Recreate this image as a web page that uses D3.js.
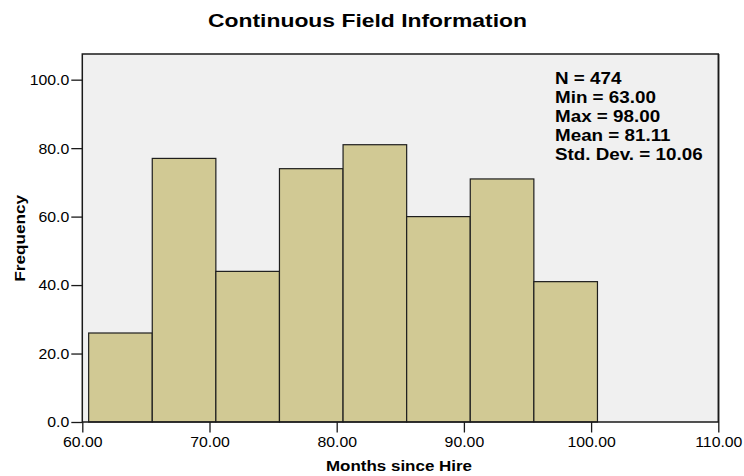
<!DOCTYPE html>
<html>
<head>
<meta charset="utf-8">
<script src="https://cdn.jsdelivr.net/npm/d3@7"></script>
<style>
  html, body { margin: 0; padding: 0; background: #ffffff; }
  svg { display: block; }
  text { font-family: "Liberation Sans", Arial, sans-serif; fill: #000; }
</style>
</head>
<body>
<svg id="chart" width="744" height="476"></svg>
<script>
// ---- data ----
const title = "Continuous Field Information";
const xLabel = "Months since Hire";
const yLabel = "Frequency";
const binStarts = [60.5, 65.5, 70.5, 75.5, 80.5, 85.5, 90.5, 95.5];
const binWidth = 5;
const frequencies = [26, 77, 44, 74, 81, 60, 71, 41];
const xTicks = [60, 70, 80, 90, 100, 110];
const yTicks = [0, 20, 40, 60, 80, 100];
const statLines = ["N = 474", "Min = 63.00", "Max = 98.00", "Mean = 81.11", "Std. Dev. = 10.06"];

// ---- layout ----
const svg = d3.select("#chart");
const plotL = 82.3, plotR = 718.3, plotT = 54, plotB = 422;
const x = d3.scaleLinear().domain([60, 110]).range([plotL, plotR]);
const y = d3.scaleLinear().domain([0, 107.5]).range([plotB, plotT]);

// stretch helper to mimic the wider rasterised fonts
function widen(sel, f) {
  sel.each(function () {
    const w = this.getComputedTextLength();
    d3.select(this).attr("textLength", w * f).attr("lengthAdjust", "spacingAndGlyphs");
  });
}

// plot background
svg.append("rect")
  .attr("x", plotL).attr("y", plotT)
  .attr("width", plotR - plotL).attr("height", plotB - plotT)
  .attr("fill", "#f0f0f0");

// bars
svg.append("g").selectAll("rect")
  .data(frequencies)
  .join("rect")
  .attr("x", (d, i) => x(binStarts[i]))
  .attr("y", d => y(d))
  .attr("width", (d, i) => x(binStarts[i] + binWidth) - x(binStarts[i]))
  .attr("height", d => y(0) - y(d))
  .attr("fill", "#d1c994")
  .attr("stroke", "#1e1e1e")
  .attr("stroke-width", 1.2);

// frame
svg.append("rect")
  .attr("x", plotL).attr("y", plotT)
  .attr("width", plotR - plotL).attr("height", plotB - plotT)
  .attr("fill", "none")
  .attr("stroke", "#1a1a1a")
  .attr("stroke-width", 1.5);
svg.append("line")
  .attr("x1", plotR + 1.2).attr("x2", plotR + 1.2)
  .attr("y1", plotT).attr("y2", plotB)
  .attr("stroke", "#9a9a9a").attr("stroke-width", 1);

// y axis
const yAxis = svg.append("g")
  .attr("transform", `translate(${plotL},0)`)
  .call(d3.axisLeft(y).tickValues(yTicks).tickFormat(d3.format(".1f")).tickSize(11).tickPadding(2));
yAxis.select(".domain").remove();
yAxis.selectAll(".tick line").attr("stroke", "#1a1a1a").attr("stroke-width", 1.3);
yAxis.selectAll(".tick text")
  .attr("font-size", 14).attr("font-family", "Liberation Sans, Arial, sans-serif")
  .attr("fill", "#222").attr("dy", "0.35em");
widen(yAxis.selectAll(".tick text"), 1.13);

// x axis
const xAxis = svg.append("g")
  .attr("transform", `translate(0,${plotB})`)
  .call(d3.axisBottom(x).tickValues(xTicks).tickFormat(d3.format(".2f")).tickSize(10.5).tickPadding(5));
xAxis.select(".domain").remove();
xAxis.selectAll(".tick line").attr("stroke", "#1a1a1a").attr("stroke-width", 1.3);
xAxis.selectAll(".tick text")
  .attr("font-size", 14).attr("font-family", "Liberation Sans, Arial, sans-serif")
  .attr("fill", "#222");
widen(xAxis.selectAll(".tick text"), 1.13);

// title
svg.append("text")
  .attr("x", 367.5).attr("y", 26.5)
  .attr("text-anchor", "middle")
  .attr("font-size", 18.5).attr("font-weight", "bold")
  .attr("textLength", 319).attr("lengthAdjust", "spacingAndGlyphs")
  .text(title);

// axis titles
svg.append("text")
  .attr("x", 399).attr("y", 471)
  .attr("text-anchor", "middle")
  .attr("font-size", 15).attr("font-weight", "bold")
  .attr("textLength", 146).attr("lengthAdjust", "spacingAndGlyphs")
  .text(xLabel);

svg.append("text")
  .attr("transform", "translate(25,238.3) rotate(-90)")
  .attr("text-anchor", "middle")
  .attr("font-size", 14).attr("font-weight", "bold")
  .attr("textLength", 87).attr("lengthAdjust", "spacingAndGlyphs")
  .text(yLabel);

// statistics box
const stats = svg.append("g").selectAll("text")
  .data(statLines)
  .join("text")
  .attr("x", 555)
  .attr("y", (d, i) => 83.5 + i * 19)
  .attr("font-size", 16.5).attr("font-weight", "bold")
  .text(d => d);
widen(stats, 1.14);
</script>
</body>
</html>
